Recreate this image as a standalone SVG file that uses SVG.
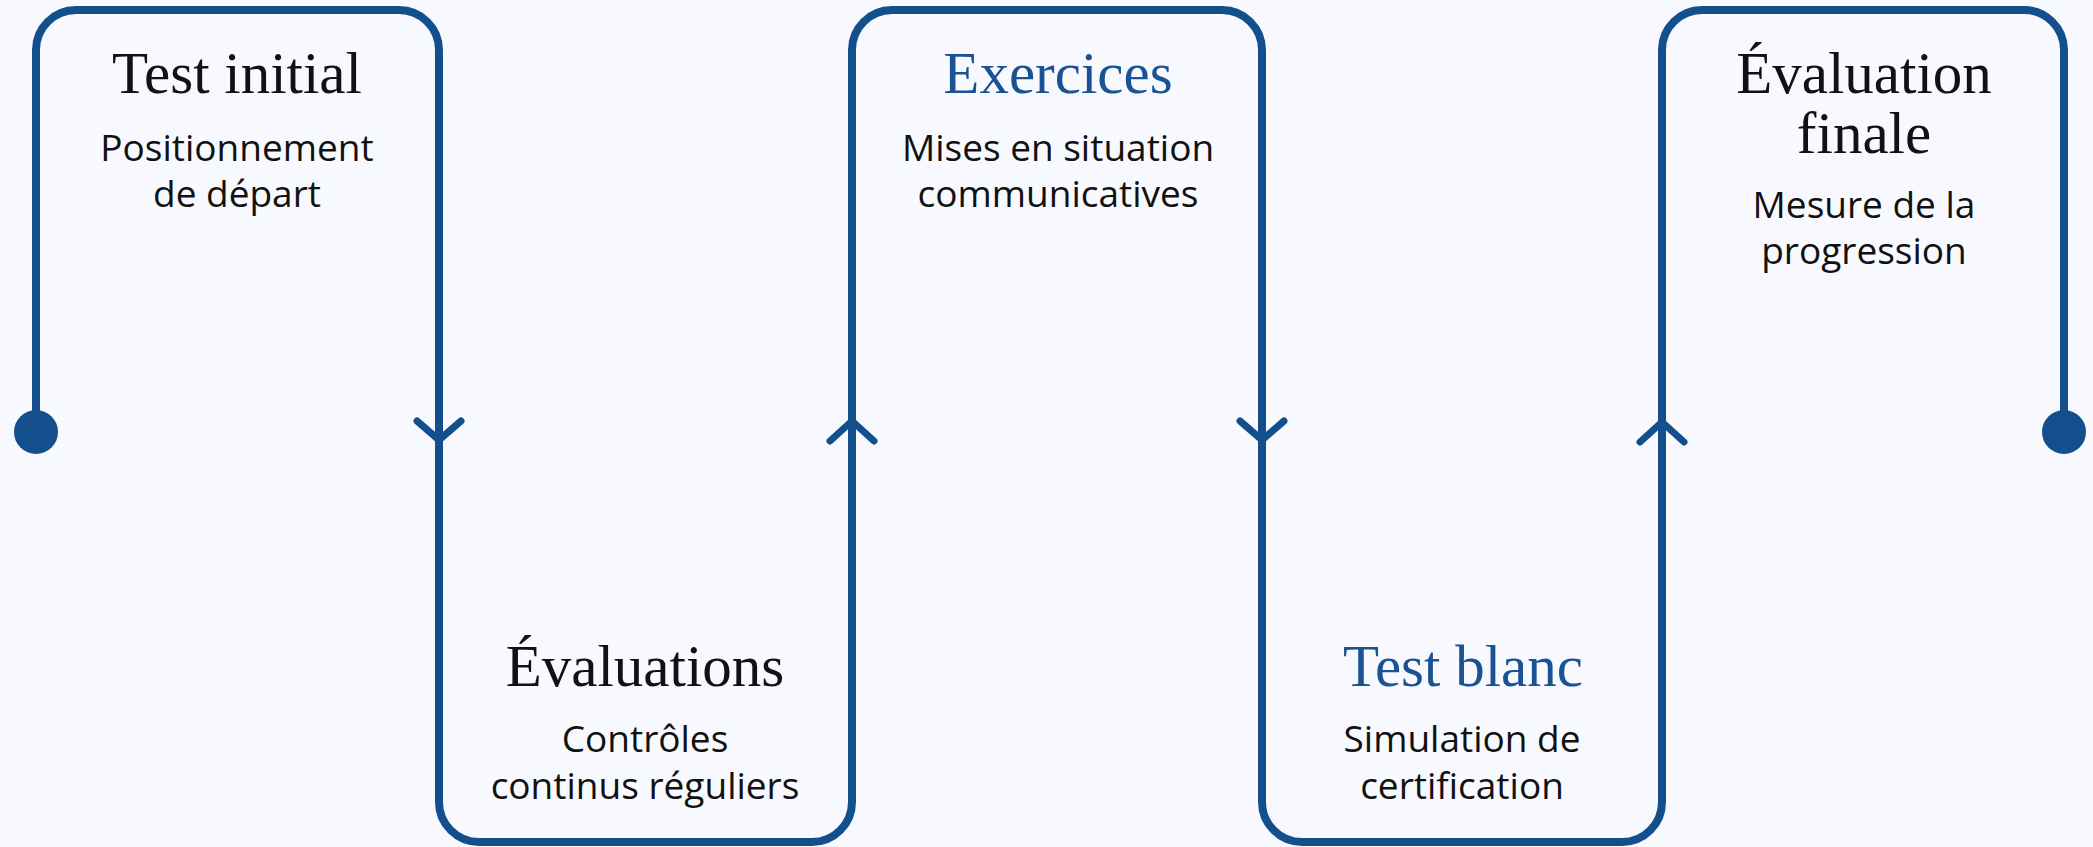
<svg xmlns="http://www.w3.org/2000/svg" width="2093" height="847" viewBox="0 0 2093 847">
<style>
.line{fill:none;stroke:#134f8c;stroke-width:8;stroke-linecap:round;stroke-linejoin:round}
.arrow{fill:none;stroke:#134f8c;stroke-width:7;stroke-linecap:round;stroke-linejoin:round}
.dot{fill:#134f8c}
.title{font-family:"Liberation Serif","Times New Roman",serif;font-size:59px;text-anchor:middle;fill:#111111}
.blue{fill:#1a5294}
.sub{font-family:"Open Sans","Noto Sans",sans-serif;font-size:37px;text-anchor:middle;fill:#111111}
</style>
<rect x="0" y="0" width="2093" height="847" fill="#f8f9fe"/>
<g id="connectors">
<path class="line" d="M36,432 V50 A40,40 0 0 1 76,10 H399 A40,40 0 0 1 439,50 V802 A40,40 0 0 0 479,842 H812 A40,40 0 0 0 852,802 V50 A40,40 0 0 1 892,10 H1222 A40,40 0 0 1 1262,50 V802 A40,40 0 0 0 1302,842 H1622 A40,40 0 0 0 1662,802 V50 A40,40 0 0 1 1702,10 H2024 A40,40 0 0 1 2064,50 V432"/>
<polyline class="arrow" points="417,421 439,440 461,421"/>
<polyline class="arrow" points="830,441 852,421 874,441"/>
<polyline class="arrow" points="1240,421 1262,440 1284,421"/>
<polyline class="arrow" points="1640,442 1662,422 1684,442"/>
<circle class="dot" cx="36" cy="432" r="22"/>
<circle class="dot" cx="2064" cy="432" r="22"/>
</g>
<g id="node-test-initial">
<text class="title" x="237" y="93">Test initial</text>
<text class="sub" x="237" y="161">Positionnement</text>
<text class="sub" x="237" y="207">de départ</text>
</g>
<g id="node-evaluations">
<text class="title" x="645" y="686">Évaluations</text>
<text class="sub" x="645" y="752">Contrôles</text>
<text class="sub" x="645" y="799">continus réguliers</text>
</g>
<g id="node-exercices">
<text class="title blue" x="1058" y="93">Exercices</text>
<text class="sub" x="1058" y="161">Mises en situation</text>
<text class="sub" x="1058" y="207">communicatives</text>
</g>
<g id="node-test-blanc">
<text class="title blue" x="1463" y="686">Test blanc</text>
<text class="sub" x="1462" y="752">Simulation de</text>
<text class="sub" x="1462" y="799">certification</text>
</g>
<g id="node-evaluation-finale">
<text class="title" x="1864" y="93">Évaluation</text>
<text class="title" x="1864" y="153">finale</text>
<text class="sub" x="1864" y="218">Mesure de la</text>
<text class="sub" x="1864" y="264">progression</text>
</g>
</svg>
